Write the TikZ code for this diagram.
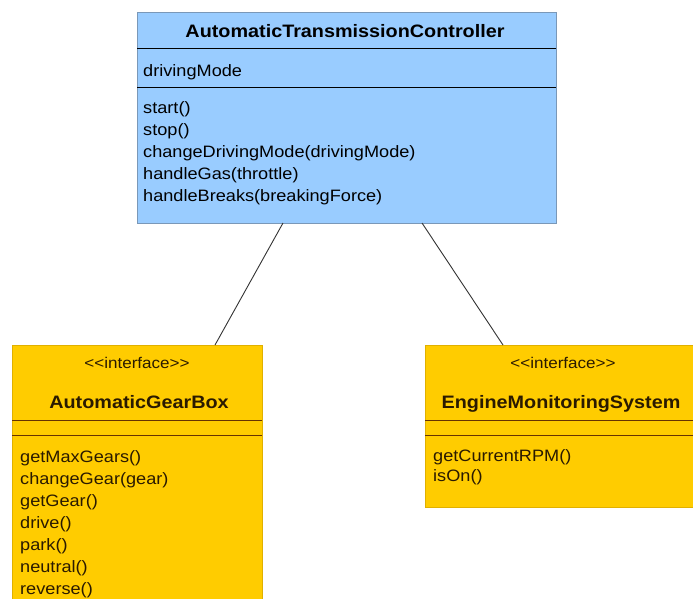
\documentclass[tikz,border=0pt]{standalone}
\usepackage{fontspec}
\setmainfont[FakeStretch=1.1]{Liberation Sans}
\usetikzlibrary{calc}
\definecolor{clsblue}{HTML}{99CCFF}
\definecolor{clsblueline}{HTML}{7A98B8}
\definecolor{clsyellow}{HTML}{FFCC00}
\definecolor{clsyellowline}{HTML}{E0B000}
\definecolor{sepbrown}{HTML}{663300}
\definecolor{txtbrown}{HTML}{2A1A00}
\newcommand{\stereoiface}{<\kern0pt<interface>\kern0pt>}
\tikzset{
  classbox/.style={draw, line width=0.8pt, anchor=north west, inner sep=0pt, outer sep=0pt},
  bluebox/.style={classbox, fill=clsblue, draw=clsblueline},
  yellowbox/.style={classbox, fill=clsyellow, draw=clsyellowline},
  titletxt/.style={font=\fontsize{18}{20}\selectfont\bfseries, anchor=base, inner sep=0pt},
  stereotxt/.style={font=\fontsize{15.5}{18}\selectfont, anchor=base, inner sep=0pt},
  membertxt/.style={font=\fontsize{16.5}{20}\selectfont, anchor=base west, inner sep=0pt},
  sepblue/.style={line width=1pt, black},
  sepyellow/.style={line width=1pt, sepbrown},
  assoc/.style={line width=0.9pt, black!80},
}
\begin{document}
\begin{tikzpicture}[x=1pt,y=-1pt]
\useasboundingbox (0,0) rectangle (693,598);
\clip (0,0) rectangle (693,598);
\fill[white] (0,0) rectangle (693,598);

% top class
\node[bluebox, minimum width=419pt, minimum height=211pt] (atc) at (137,12) {};
\draw[sepblue] (137,48) -- (556,48);
\draw[sepblue] (137,87) -- (556,87);
\node[titletxt] (atct) at (345,37) {AutomaticTransmissionController};
\node[membertxt] (atca) at (143,76) {drivingMode};
\foreach \t [count=\i] in {start(),stop(),changeDrivingMode(drivingMode),handleGas(throttle),handleBreaks(breakingForce)}
  \node[membertxt, name=atcm\i] at (143,{107+22*(\i-1)+6}) {\t};

% left interface
\node[yellowbox, minimum width=250pt, minimum height=270pt] (agb) at (12,345) {};
\draw[sepyellow] (12,420) -- (262,420);
\draw[sepyellow] (12,435) -- (262,435);
\node[stereotxt, text=txtbrown] (agbs) at (137,368) {\stereoiface};
\node[titletxt, text=txtbrown] (agbt) at (139,408) {AutomaticGearBox};
\foreach \t [count=\i] in {getMaxGears(),changeGear(gear),getGear(),drive(),park(),neutral(),reverse()}
  \node[membertxt, text=txtbrown, name=agbm\i] at (20,{456+22*(\i-1)+6}) {\t};

% right interface
\node[yellowbox, minimum width=280pt, minimum height=162pt] (ems) at (425,345) {};
\draw[sepyellow] (425,420) -- (705,420);
\draw[sepyellow] (425,435) -- (705,435);
\node[stereotxt, text=txtbrown] (emss) at (563,368) {\stereoiface};
\node[titletxt, text=txtbrown] (emst) at (561,408) {EngineMonitoringSystem};
\node[membertxt, text=txtbrown] (emsm1) at (433,461) {getCurrentRPM()};
\node[membertxt, text=txtbrown] (emsm2) at (433,481) {isOn()};

% associations
\draw[assoc] ($(atc.south west)+(146,0)$) -- ($(agb.north west)+(203,0)$);
\draw[assoc] ($(atc.south west)+(285,0)$) -- ($(ems.north west)+(78,0)$);
\end{tikzpicture}
\end{document}
